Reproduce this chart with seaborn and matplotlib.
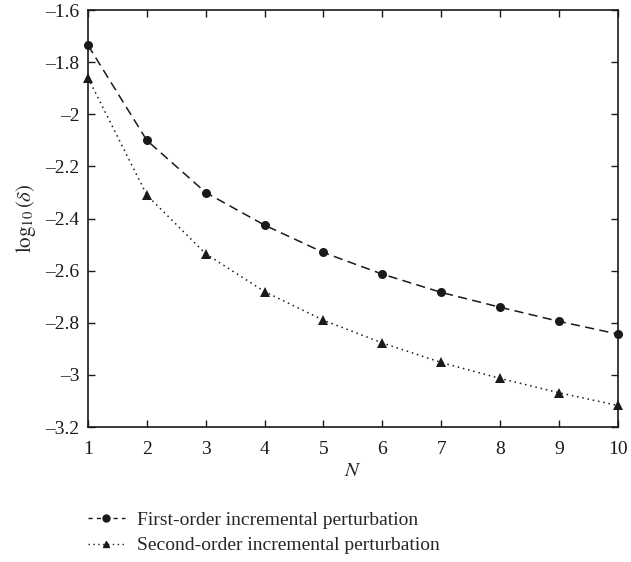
import matplotlib
matplotlib.use("Agg")
import numpy as np
import pandas as pd
import seaborn as sns
import matplotlib.pyplot as plt
from matplotlib.lines import Line2D
from matplotlib.ticker import FuncFormatter

# data
N = [1, 2, 3, 4, 5, 6, 7, 8, 9, 10]
first_order = [-1.735, -2.10, -2.30, -2.425, -2.53, -2.613, -2.683, -2.740, -2.794, -2.843]
second_order = [-1.86, -2.31, -2.535, -2.68, -2.79, -2.877, -2.952, -3.013, -3.068, -3.117]
LABELS = ("First-order incremental perturbation", "Second-order incremental perturbation")

df = pd.DataFrame({"N": N + N,
                   "val": first_order + second_order,
                   "series": [LABELS[0]] * len(N) + [LABELS[1]] * len(N)})

sns.set_theme(style="ticks")
plt.rcParams["font.family"] = ["Liberation Serif", "DejaVu Serif"]
plt.rcParams["mathtext.fontset"] = "stix"

fig = plt.figure(figsize=(6.31, 5.62), dpi=100)
ax = fig.add_axes([0.1395, 0.240, 0.8395, 0.742])

sns.lineplot(data=df, x="N", y="val", hue="series", style="series",
             palette=["#1a1a1a", "#1a1a1a"], dashes=[(6, 3.5), (1, 2.5)],
             markers=["o", "^"], markersize=6.5, linewidth=1.1,
             markeredgewidth=0, legend=False, ax=ax, clip_on=False)

ax.set_xlim(1, 10)
ax.set_ylim(-3.2, -1.6)
ax.set_xticks(N)
ax.set_yticks(np.arange(-3.2, -1.59, 0.2))
ax.yaxis.set_major_formatter(FuncFormatter(lambda v, p: ("%g" % round(v, 1)).replace("-", "\u2013")))
ax.tick_params(direction="in", length=5, width=1, labelsize=14, top=True, right=True,
               colors="#1a1a1a")
ax.tick_params(axis="x", pad=10)
ax.tick_params(axis="y", pad=6)
for s in ax.spines.values():
    s.set_linewidth(1.2)
    s.set_color("#1a1a1a")
ax.set_xlabel("$N$", fontsize=15, labelpad=3)
ax.set_ylabel(r"$\log_{10}(\delta)$", fontsize=15, labelpad=5)

handles = [Line2D([], [], color="#1a1a1a", ls=(0, (3, 3)), marker="o", markersize=5, lw=1),
           Line2D([], [], color="#1a1a1a", ls=(0, (1, 2.5)), marker="^", markersize=5, lw=1)]
fig.legend(handles, LABELS, loc="upper left", bbox_to_anchor=(0.127, 0.104),
           frameon=False, fontsize=14, handlelength=1.9, handletextpad=0.6,
           labelspacing=0.4, borderaxespad=0)

fig.savefig("out.png", dpi=100)
